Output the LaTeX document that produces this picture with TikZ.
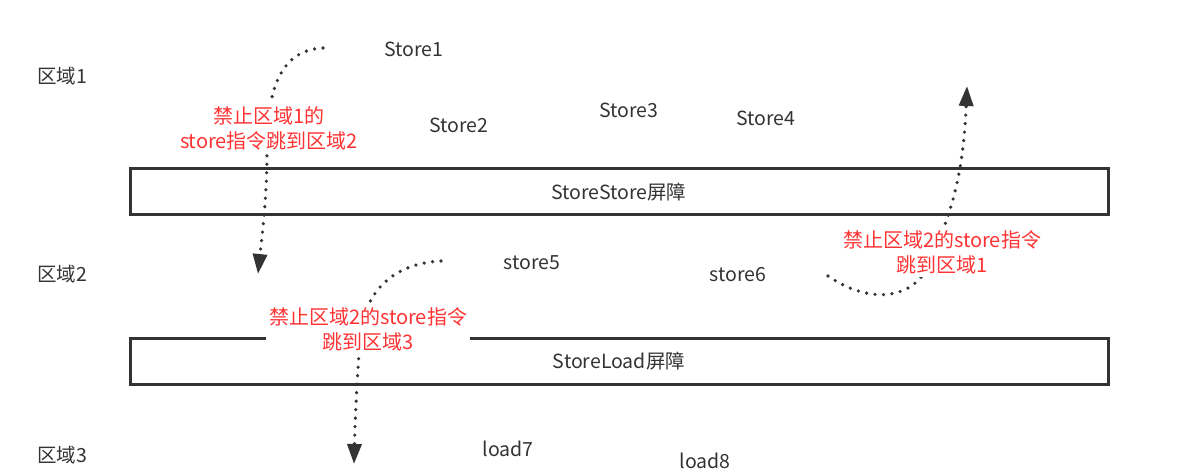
\documentclass[tikz,border=0pt]{standalone}
\usepackage{fontspec}
\setmainfont{Noto Sans CJK SC}
\usetikzlibrary{arrows.meta}
\definecolor{ink}{HTML}{333333}
\definecolor{redtxt}{HTML}{FF3333}
\tikzset{
  txt/.style={text=ink, font=\fontsize{19.5}{25}\selectfont, inner sep=0pt},
  note/.style={text=redtxt, font=\fontsize{20}{25}\selectfont, align=center, fill=white, inner sep=3pt},
  barrier/.style={draw=ink, line width=3pt, minimum width=978pt, minimum height=46pt, text=ink, font=\fontsize{19.5}{25}\selectfont},
  jump/.style={draw=ink, line width=3.6pt, dash pattern=on 0pt off 8.5pt, line cap=round,
    -{Triangle[length=20pt,width=14pt]}},
}
\begin{document}
\begin{tikzpicture}[x=1pt,y=-1pt]
\useasboundingbox (0,0) rectangle (1180,470);
% region labels
\node[txt] (r1) at (62,76) {区域1};
\node[txt] (r2) at (62,274) {区域2};
\node[txt] (r3) at (62,455) {区域3};
% instructions
\node[txt] (s1) at (414,49) {Store1};
\node[txt] (s2) at (459,125) {Store2};
\node[txt] (s3) at (629,110) {Store3};
\node[txt] (s4) at (766,118) {Store4};
\node[txt] (s5) at (532,263) {store5};
\node[txt] (s6) at (738,275) {store6};
\node[txt] (l7) at (508,449) {load7};
\node[txt] (l8) at (705,461) {load8};
% barriers
\node[barrier] (ss) at (619,192) {StoreStore屏障};
\node[barrier] (sl) at (619,361) {StoreLoad屏障};
% arrow end points
\coordinate (a1s) at (323,48);
\coordinate (a1e) at (258,274);
\coordinate (a2s) at (441,261);
\coordinate (a2e) at (354,464);
\coordinate (a3s) at (828,276);
\coordinate (a3e) at (967,86);
% dotted jump arrows
\draw[jump] (a1s) .. controls (280,50) and (267,90) .. (267,150) .. controls (267,200) and (262,235) .. (a1e);
\draw[jump] (a2s) .. controls (400,263) and (364,285) .. (360,340) .. controls (357,380) and (355,420) .. (a2e);
\draw[jump] (a3s) .. controls (870,305) and (915,300) .. (930,262) .. controls (950,215) and (963,180) .. (a3e);
% notes
\node[note] (n1) at (269,128) {禁止区域1的\\store指令跳到区域2};
\node[note] (n2) at (368,329) {禁止区域2的store指令\\跳到区域3};
\node[note] (n3) at (942,252) {禁止区域2的store指令\\跳到区域1};
\end{tikzpicture}
\end{document}
